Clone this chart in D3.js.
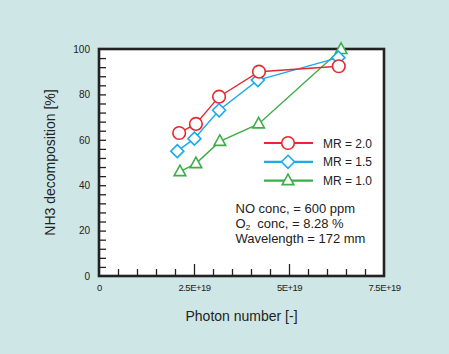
<!DOCTYPE html>
<html>
<head>
<meta charset="utf-8">
<script src="https://cdn.jsdelivr.net/npm/d3@7"></script>
<style>
  body { margin: 0; background: #cfe6e6; }
  svg { display: block; font-family: "Liberation Sans", Arial, sans-serif; }
</style>
</head>
<body>
<div id="chart"></div>
<script>
const seriesNames = ["MR = 2.0", "MR = 1.5", "MR = 1.0"];
const seriesColors = ["#e8262e", "#1ea9ec", "#3cad48"];
const seriesMarkers = ["circle", "diamond", "triangle"];

const photonMR20 = [2.11e19, 2.55e19, 3.16e19, 4.21e19, 6.31e19];
const decompMR20 = [63, 67, 79, 90, 92.4];
const photonMR15 = [2.06e19, 2.51e19, 3.16e19, 4.18e19, 6.30e19];
const decompMR15 = [55, 60.5, 73, 86.3, 96.2];
const photonMR10 = [2.13e19, 2.55e19, 3.18e19, 4.20e19, 6.37e19];
const decompMR10 = [46, 49.5, 59.3, 67, 99.8];

const xTickValues = [0, 2.5e19, 5e19, 7.5e19];
const xTickLabels = ["0", "2.5E+19", "5E+19", "7.5E+19"];
const yTickValues = [0, 20, 40, 60, 80, 100];

const noteLines = ["NO conc, = 600 ppm", "O2  conc, = 8.28 %", "Wavelength = 172 mm"];

const series = [
  { name: seriesNames[0], xs: photonMR20, ys: decompMR20 },
  { name: seriesNames[1], xs: photonMR15, ys: decompMR15 },
  { name: seriesNames[2], xs: photonMR10, ys: decompMR10 }
].map((s, i) => ({
  ...s,
  color: seriesColors[i],
  marker: seriesMarkers[i],
  points: s.xs.map((x, j) => ({ x, y: s.ys[j] }))
}));

const W = 449, H = 354;
const margin = { left: 99, top: 49, right: 65, bottom: 78 };
const w = W - margin.left - margin.right, h = H - margin.top - margin.bottom;

const svg = d3.select("#chart").append("svg")
  .attr("width", W).attr("height", H);

svg.append("rect").attr("width", W).attr("height", H).attr("fill", "#cfe6e6");

const plot = svg.append("g").attr("transform", `translate(${margin.left},${margin.top})`);

const x = d3.scaleLinear().domain([0, 7.5e19]).range([0, w]);
const y = d3.scaleLinear().domain([0, 100]).range([h, 0]);

plot.append("rect").attr("width", w).attr("height", h).attr("fill", "#fff");

// inward minor ticks
plot.append("g")
  .call(d3.axisRight(y).tickValues(d3.range(4, 100, 4)).tickSize(7).tickFormat(""))
  .call(g => g.select(".domain").remove())
  .call(g => g.selectAll(".tick line").attr("stroke", "#222").attr("stroke-width", 1.3));

plot.append("g")
  .attr("transform", `translate(0,${h})`)
  .call(d3.axisTop(x).tickValues(d3.range(1, 15).map(i => i * 0.5e19)).tickSize(7).tickFormat(""))
  .call(g => g.select(".domain").remove())
  .call(g => g.selectAll(".tick line")
    .attr("stroke", "#222").attr("stroke-width", 1.3)
    .attr("y2", d => (Math.abs(d / 2.5e19 - Math.round(d / 2.5e19)) < 1e-6 ? -12 : -7)));

// tick labels
plot.append("g")
  .attr("transform", "translate(-6,0)")
  .call(d3.axisLeft(y).tickValues(yTickValues).tickSize(0))
  .call(g => g.select(".domain").remove())
  .selectAll("text")
  .attr("fill", "#222")
  .style("font-size", "10px");

plot.append("g")
  .attr("transform", `translate(0,${h + 5})`)
  .call(d3.axisBottom(x).tickValues(xTickValues).tickSize(0)
    .tickFormat((d, i) => xTickLabels[i]))
  .call(g => g.select(".domain").remove())
  .selectAll("text")
  .attr("fill", "#222")
  .style("font-size", "9.5px")
  .style("letter-spacing", "-0.5px");

plot.append("rect")
  .attr("width", w).attr("height", h)
  .attr("fill", "none").attr("stroke", "#222").attr("stroke-width", 2.6);

const line = d3.line().x(d => x(d.x)).y(d => y(d.y));

function drawMarker(g, type, color) {
  if (type === "circle") {
    g.append("circle").attr("r", 6.3);
  } else if (type === "diamond") {
    g.append("path").attr("d", "M0,-6.5L6.5,0L0,6.5L-6.5,0Z");
  } else {
    g.append("path").attr("d", "M0,-6.5L5.8,4L-5.8,4Z");
  }
  g.selectAll("circle,path")
    .attr("fill", "#fff").attr("stroke", color).attr("stroke-width", 1.6);
}

// draw series, green first so red sits on top
series.slice().reverse().forEach(s => {
  plot.append("path")
    .datum(s.points)
    .attr("d", line)
    .attr("fill", "none")
    .attr("stroke", s.color)
    .attr("stroke-width", 1.4);
  plot.selectAll(null)
    .data(s.points)
    .join("g")
    .attr("transform", d => `translate(${x(d.x)},${y(d.y)})`)
    .each(function () { drawMarker(d3.select(this), s.marker, s.color); });
});

// legend
const legend = plot.append("g").attr("transform", "translate(165,94)");
series.forEach((s, i) => {
  const row = legend.append("g").attr("transform", `translate(0,${i * 18.8})`);
  row.append("line").attr("x1", 0).attr("x2", 49)
    .attr("stroke", s.color).attr("stroke-width", 2.2);
  const m = row.append("g").attr("transform", "translate(24,0)");
  drawMarker(m, s.marker, s.color);
  row.append("text")
    .attr("x", 59).attr("y", 4.5)
    .attr("fill", "#222")
    .style("font-size", "12px")
    .text(s.name);
});

// notes
const notes = plot.append("g").attr("transform", "translate(136.5,164)");
noteLines.forEach((t, i) => {
  const txt = notes.append("text")
    .attr("y", i * 14.8)
    .attr("fill", "#222")
    .style("font-size", "13px")
    .style("white-space", "pre");
  if (t.startsWith("O2")) {
    txt.append("tspan").text("O");
    txt.append("tspan").attr("dy", 2).style("font-size", "8px").text("2");
    txt.append("tspan").attr("dy", -2).text(t.slice(2));
  } else {
    txt.text(t);
  }
});

// axis titles
svg.append("text")
  .attr("x", margin.left + w / 2).attr("y", 321)
  .attr("text-anchor", "middle")
  .attr("fill", "#222")
  .style("font-size", "14px")
  .text("Photon number [-]");

svg.append("text")
  .attr("transform", `translate(55,${margin.top + h / 2}) rotate(-90)`)
  .attr("text-anchor", "middle")
  .attr("fill", "#222")
  .style("font-size", "14px")
  .text("NH3 decomposition [%]");
</script>
</body>
</html>
